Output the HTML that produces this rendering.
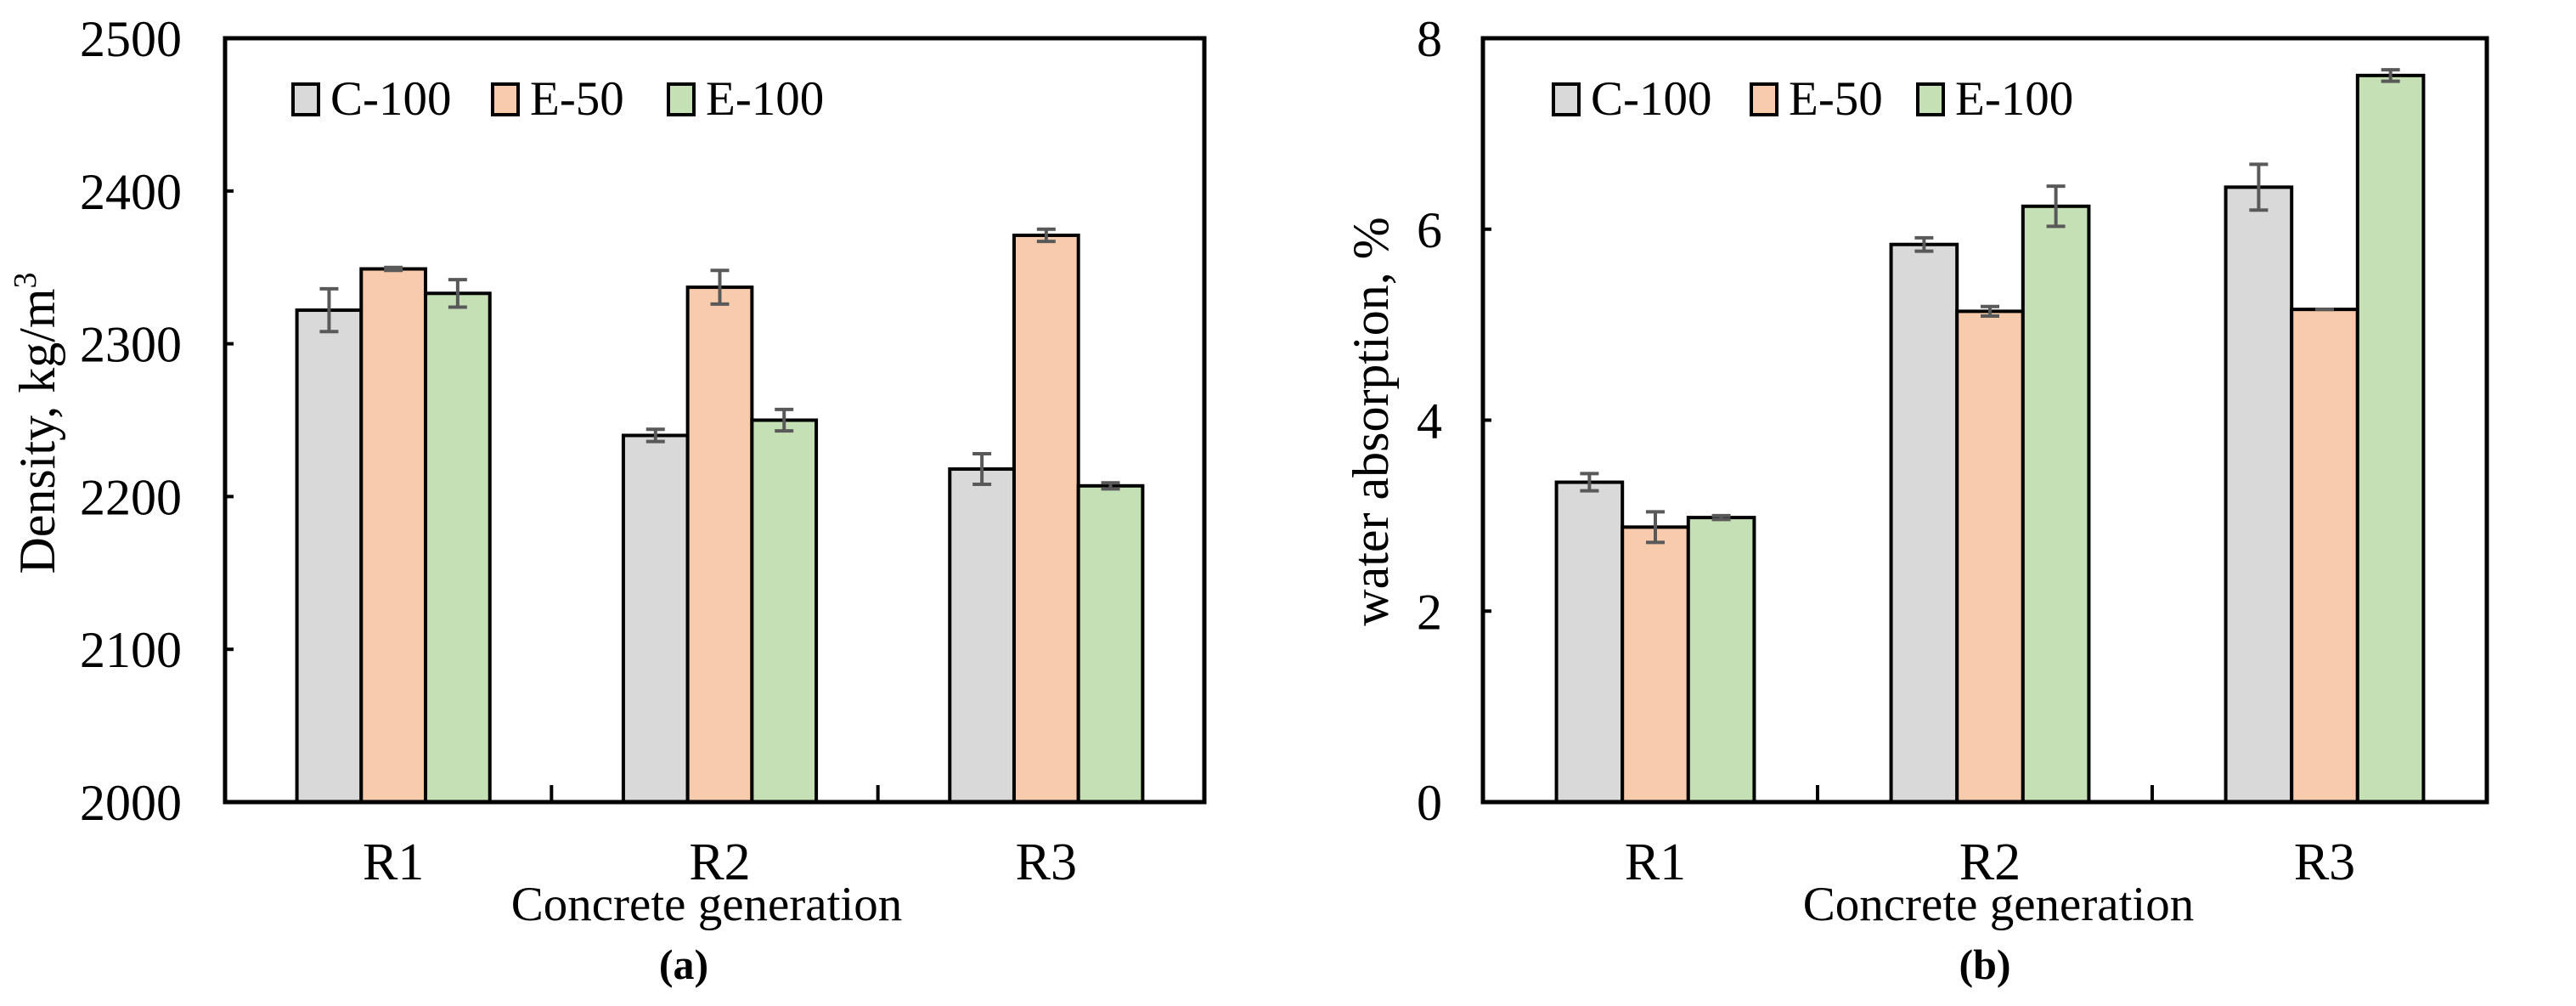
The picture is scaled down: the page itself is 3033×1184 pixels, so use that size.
<!DOCTYPE html>
<html><head><meta charset="utf-8"><style>
html,body{margin:0;padding:0;background:#fff;}
svg{display:block;font-family:"Liberation Serif",serif;}
</style></head><body>
<svg id="fig" width="3033" height="1184" viewBox="0 0 3033 1184"></svg>
<script>
const categories = ["R1","R2","R3"];
const seriesNames = ["C-100","E-50","E-100"];
const seriesColors = ["#d9d9d9","#f8cbad","#c5e0b4"];
const densityC100 = [2322,2240,2218];
const densityE50 = [2349,2337,2371];
const densityE100 = [2333,2250,2207];
const densityErrC100 = [14,4,10];
const densityErrE50 = [1,11,4];
const densityErrE100 = [9,7,2];
const densityTicks = [2000,2100,2200,2300,2400,2500];
const waterC100 = [3.35,5.84,6.44];
const waterE50 = [2.88,5.14,5.16];
const waterE100 = [2.98,6.24,7.61];
const waterErrC100 = [0.09,0.07,0.24];
const waterErrE50 = [0.16,0.05,0];
const waterErrE100 = [0.02,0.21,0.06];
const waterTicks = [0,2,4,6,8];

const NS="http://www.w3.org/2000/svg";
const svg=document.getElementById('fig');
function mk(tag,attrs,parent,text){const e=document.createElementNS(NS,tag);for(const k in attrs)e.setAttribute(k,attrs[k]);if(text!==undefined)e.textContent=text;(parent||svg).appendChild(e);return e;}

function drawChart(cfg){
  const g=mk('g',{});
  
  
  const L=cfg.left,R=cfg.right,T=45,B=944;
  const ymin=cfg.ticks[0],ymax=cfg.ticks[cfg.ticks.length-1];
  const y=v=>B-(v-ymin)/(ymax-ymin)*(B-T);
  const cw=(R-L)/categories.length;
  const bw=cw*0.197;
  const x=(ci,si)=>L+cw*ci+cw/2+(si-1.5)*bw+6;
  const vals=[cfg.s1,cfg.s2,cfg.s3],errs=[cfg.e1,cfg.e2,cfg.e3];
  for(let si=0;si<3;si++){
    for(let ci=0;ci<categories.length;ci++){
      const b=mk('rect',{x:x(ci,si),y:y(vals[si][ci]),width:bw,height:B-y(vals[si][ci]),fill:seriesColors[si],stroke:'#000','stroke-width':4},g);
      
      
    }
  }
  for(let si=0;si<3;si++){
    for(let ci=0;ci<categories.length;ci++){
      const cx=x(ci,si)+bw/2,v=vals[si][ci],e=errs[si][ci];
      const eg=mk('g',{stroke:'#595959','stroke-width':4},g);
      
      
      mk('line',{x1:cx,x2:cx,y1:y(v+e),y2:y(v-e)},eg);
      mk('line',{x1:cx-11,x2:cx+11,y1:y(v+e),y2:y(v+e)},eg);
      mk('line',{x1:cx-11,x2:cx+11,y1:y(v-e),y2:y(v-e)},eg);
    }
  }
  const fr=mk('rect',{x:L,y:T,width:R-L,height:B-T,fill:'none',stroke:'#000','stroke-width':5},g);
  
  
  for(let i=1;i<categories.length;i++){
    mk('line',{x1:L+cw*i,x2:L+cw*i,y1:B,y2:B-20,stroke:'#000','stroke-width':4},g);
  }
  cfg.ticks.forEach(t=>{
    mk('line',{x1:L,x2:L+10,y1:y(t),y2:y(t),stroke:'#000','stroke-width':4},g);
    const tl=mk('text',{x:cfg.tickX,y:y(t)+21,'text-anchor':'end','font-size':60,fill:'#000'},g,String(t));
    
    
  });
  categories.forEach((c,ci)=>{
    const tl=mk('text',{x:L+cw*ci+cw/2+6,y:1035,'text-anchor':'middle','font-size':62,fill:'#000'},g,c);
    
    
  });
  const xt=mk('text',{x:cfg.xTitleX,y:1083,'text-anchor':'middle','font-size':57,fill:'#000'},g,'Concrete generation');
  
  
  const pl=mk('text',{x:cfg.panelX,y:1152,'text-anchor':'middle','font-size':50,'font-weight':'bold',fill:'#000'},g,cfg.panel);
  
  
  const yt=mk('text',{x:0,y:0,'text-anchor':'middle','font-size':60,fill:'#000',transform:`translate(${cfg.titleX},${cfg.titleY}) rotate(-90)`},g);
  
  
  yt.textContent=cfg.title;
  if(cfg.sup){mk('tspan',{'font-size':38,dy:-22},yt,cfg.sup);}
  cfg.legend.forEach((lx,si)=>{
    const lg=mk('g',{},g);
    
    
    mk('rect',{x:lx,y:99,width:30,height:36,fill:seriesColors[si],stroke:'#000','stroke-width':4},lg);
    mk('text',{x:lx+44,y:135,'font-size':57,fill:'#000'},lg,seriesNames[si]);
  });
}
drawChart({name:'density-chart',left:265,right:1418,ticks:densityTicks,s1:densityC100,s2:densityE50,s3:densityE100,e1:densityErrC100,e2:densityErrE50,e3:densityErrE100,tickX:214,titleX:64,titleY:498,title:'Density, kg/m',sup:'3',panel:'(a)',panelX:805,xTitleX:832,legend:[345,580,787]});
drawChart({name:'water-absorption-chart',left:1746,right:2928,ticks:waterTicks,s1:waterC100,s2:waterE50,s3:waterE100,e1:waterErrC100,e2:waterErrE50,e3:waterErrE100,tickX:1698,titleX:1634,titleY:496,title:'water absorption, %',panel:'(b)',panelX:2337,xTitleX:2353,legend:[1829,2062,2258]});
</script>
</body></html>
